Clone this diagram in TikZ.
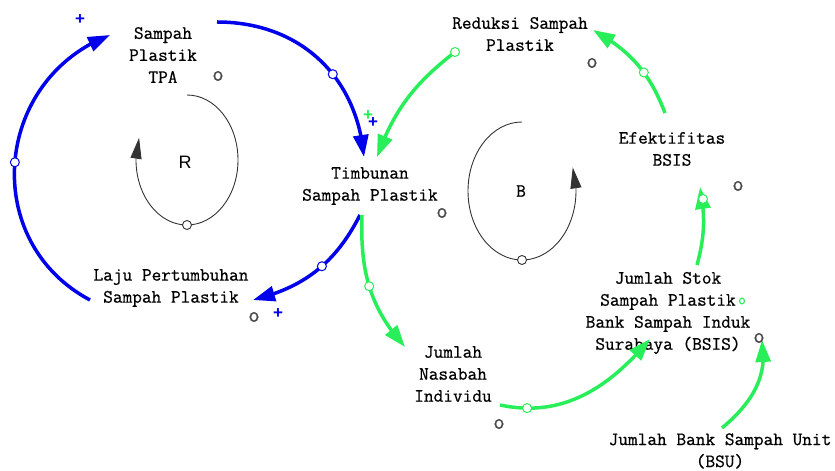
\documentclass[tikz,border=0pt]{standalone}
\usepackage{fontspec}
\setsansfont{Liberation Sans}
\newfontfamily\varfont{Latin Modern Mono}[FakeBold=0.7]
\usetikzlibrary{arrows.meta,bending}
\definecolor{lblue}{RGB}{0,0,235}
\definecolor{lgreen}{RGB}{40,238,90}
\definecolor{polc}{RGB}{70,70,70}
\tikzset{
  var/.style={font=\varfont\fontsize{18.8}{22}\selectfont, align=center, inner sep=0pt},
  blink/.style={line width=3.5pt, lblue, -{Triangle[length=22pt,width=15pt]}},
  glink/.style={line width=3.5pt, lgreen, -{Triangle[length=22pt,width=15pt]}},
  mid/.style={circle, draw, fill=white, line width=1pt, inner sep=0pt, minimum size=9pt},
  loopln/.style={line width=0.9pt, black!80, -{Triangle[length=21pt,width=11pt]}},
  loopmid/.style={circle, draw=black!80, fill=white, line width=0.9pt, inner sep=0pt, minimum size=9pt},
  pol/.style={font=\varfont\fontsize{22}{22}\selectfont, text=polc, inner sep=0pt},
  plus/.style={font=\sffamily\bfseries\fontsize{17}{17}\selectfont, inner sep=0pt},
  looplbl/.style={inner sep=0pt}
}
\begin{document}
\begin{tikzpicture}[x=1pt,y=1pt]
\useasboundingbox (0,0) rectangle (835,471);
% loops
\draw[loopln] (187,376) arc[start angle=90, end angle=-200, x radius=51, y radius=65];
\node[loopmid] (rmid) at (187,246) {};
\node[looplbl, font=\sffamily\fontsize{18}{18}\selectfont] (rlbl) at (185,309) {R};
\draw[loopln] (522,349) arc[start angle=90, end angle=380, x radius=54, y radius=69];
\node[loopmid] (bmid) at (522,211) {};
\node[looplbl, font=\varfont\fontsize{18.8}{18.8}\selectfont] (blbl) at (521,280) {B};
% variables
\node[var] (tpa) at (163,416) {Sampah\\Plastik\\TPA};
\node[var] (timb) at (370,285) {Timbunan\\Sampah Plastik};
\node[var] (laju) at (171,183) {Laju Pertumbuhan\\Sampah Plastik};
\node[var] (red) at (520,437) {Reduksi Sampah\\Plastik};
\node[var] (efek) at (672,322) {Efektifitas\\BSIS};
\node[var] (stok) at (668,158) {Jumlah Stok\\Sampah Plastik\\Bank Sampah Induk\\Surabaya (BSIS)};
\node[var] (nas) at (453,97) {Jumlah\\Nasabah\\Individu};
\node[var] (bsu) at (720,20) {Jumlah Bank Sampah Unit\\(BSU)};
% blue links
\draw[blink] ([shift={(54,33)}]tpa.center) to[out=0,in=95,distance=82] node[mid,pos=0.6] (m1) {} ([shift={(-6,29)}]timb.center);
\draw[blink] ([shift={(-10,-29)}]timb.center) to[out=-117,in=14] node[mid,pos=0.45] (m2) {} ([shift={(82,-12)}]laju.center);
\draw[blink] ([shift={(-81,-12)}]laju.center) to[out=152,in=201,distance=125] node[mid,pos=0.5] (m3) {} ([shift={(-53,20)}]tpa.center);
% green links
\draw[glink] ([shift={(-65,-18)}]red.center) to[out=-142,in=70] node[mid,pos=0] (m4) {} ([shift={(7,29)}]timb.center);
\draw[glink] ([shift={(-8,-29)}]timb.center) to[out=-92,in=132] node[mid,pos=0.5] (m5) {} ([shift={(-48,27)}]nas.center);
\draw[glink] ([shift={(-7,36)}]efek.center) to[out=111,in=-29] node[mid,pos=0.4] (m6) {} ([shift={(73,4)}]red.center);
\draw[glink] ([shift={(29,48)}]stok.center) to[out=75,in=-80] ([shift={(28,-38)}]efek.center);
\node[mid, draw=lgreen] (m7) at (703,272) {};
\draw[glink] ([shift={(47,-31)}]nas.center) to[out=-12,in=230] node[mid,pos=0.15] (m8) {} ([shift={(-18,-26)}]stok.center);
\draw[glink] ([shift={(2,23)}]bsu.center) to[out=40,in=-80] ([shift={(94,-27)}]stok.center);
% polarity marks
\node[pol] (p1) at (218,395) {o};
\node[pol] (p2) at (442,258) {o};
\node[pol] (p3) at (254,154) {o};
\node[pol] (p4) at (592,408) {o};
\node[pol] (p5) at (738,285) {o};
\node[pol] (p6) at (759,133) {o};
\node[pol] (p7) at (499,47) {o};
\node[pol, text=lgreen, font=\varfont\fontsize{15}{15}\selectfont] (p8) at (742,170) {o};
\node[plus, text=lblue] (s1) at (80,451) {+};
\node[plus, text=lblue] (s2) at (278,157) {+};
\node[plus, text=lgreen] (s3) at (368,355) {+};
\node[plus, text=lblue] (s4) at (373,348) {+};
\end{tikzpicture}
\end{document}
